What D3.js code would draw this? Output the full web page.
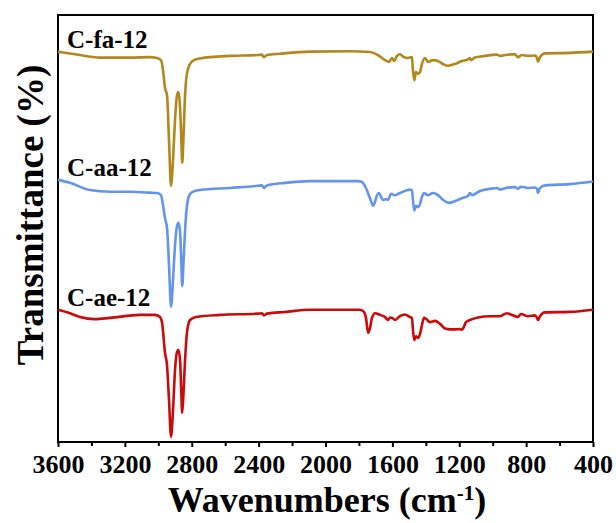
<!DOCTYPE html>
<html>
<head>
<meta charset="utf-8">
<script src="https://cdn.jsdelivr.net/npm/d3@7/dist/d3.min.js"></script>
<style>
  html, body { margin: 0; padding: 0; background: #fff; }
  svg { display: block; }
  text { font-family: "Liberation Serif", "Times New Roman", serif; font-weight: bold; fill: #000; }
</style>
</head>
<body>
<svg id="chart" width="616" height="523"></svg>
<script>
// FTIR spectra, offset vertically (transmittance, arbitrary units)
const seriesNames = ["C-fa-12", "C-aa-12", "C-ae-12"];
const seriesColors = ["#b3871b", "#6495ed", "#cc0a0a"];

// [wavenumber (cm-1), transmittance]
const faSpectrum = [
  [3600,91.4],[3498,90.8],[3349,90.0],[3169,90.0],[3050,90.1],[3008,89.9],[2984,89.4],
  [2972,87.1],[2960,82.9],[2948,81.2],[2936,70.6],[2924,59.9],[2912,66.0],[2900,75.4],
  [2888,81.2],[2880,81.9],[2873,80.0],[2864,73.0],[2857,65.3],[2850,70.6],[2840,81.2],
  [2828,86.4],[2810,88.5],[2787,89.4],[2751,89.8],[2571,90.4],[2404,90.6],[2380,90.7],
  [2368,90.1],[2350,90.6],[2272,90.9],[2093,91.4],[1854,91.5],[1734,91.3],[1686,90.6],
  [1644,89.4],[1620,89.0],[1602,89.9],[1590,89.2],[1572,90.4],[1555,90.8],[1531,90.1],
  [1507,89.9],[1483,90.1],[1477,87.1],[1469,84.7],[1459,86.6],[1447,86.2],[1435,86.6],
  [1423,88.5],[1405,89.9],[1387,89.0],[1357,89.4],[1327,89.2],[1297,88.5],[1267,88.1],
  [1226,88.5],[1184,89.2],[1148,89.6],[1136,89.9],[1130,89.4],[1106,90.0],[1046,90.4],
  [974,90.7],[956,90.4],[926,90.6],[867,90.8],[849,90.1],[825,90.6],[789,90.4],
  [747,90.5],[735,89.9],[729,89.0],[717,90.1],[687,91.0],[538,91.1],[400,91.4]
];

const aaSpectrum = [
  [3600,61.3],[3528,60.6],[3409,58.9],[3289,58.5],[3169,58.5],[3050,58.3],[3008,58.2],
  [2984,57.7],[2972,55.4],[2960,52.3],[2948,50.0],[2936,41.3],[2924,31.5],[2912,37.8],
  [2900,46.0],[2888,50.5],[2879,51.2],[2870,49.1],[2863,42.5],[2857,36.4],[2850,41.3],
  [2840,49.5],[2828,55.4],[2810,58.0],[2781,58.7],[2751,58.9],[2571,59.4],[2404,59.9],
  [2380,60.0],[2368,59.4],[2350,60.0],[2242,60.6],[2093,61.0],[1913,61.0],[1806,61.0],
  [1782,60.8],[1758,59.4],[1734,57.0],[1714,55.2],[1704,56.1],[1692,57.7],[1680,58.2],
  [1668,57.3],[1656,56.6],[1638,56.8],[1626,56.6],[1608,58.0],[1584,57.7],[1555,58.2],
  [1525,58.7],[1495,59.0],[1483,58.9],[1477,56.6],[1469,54.1],[1459,55.2],[1447,54.9],
  [1435,55.6],[1423,57.3],[1411,58.2],[1387,57.7],[1357,58.2],[1327,57.7],[1297,56.6],
  [1261,55.9],[1226,56.3],[1184,57.0],[1148,57.5],[1136,58.2],[1124,57.7],[1076,58.7],
  [1016,59.2],[974,59.4],[956,59.0],[920,59.4],[867,59.6],[849,59.2],[831,59.7],
  [789,59.4],[747,59.5],[735,59.2],[729,58.2],[717,59.4],[687,60.0],[538,60.3],[400,60.9]
];

const aeSpectrum = [
  [3600,30.8],[3528,30.0],[3468,29.1],[3379,28.6],[3289,28.9],[3110,29.6],[3020,29.6],
  [2990,29.1],[2978,27.9],[2960,20.7],[2948,17.8],[2936,9.6],[2924,1.0],[2912,7.3],
  [2900,16.7],[2888,20.9],[2880,21.4],[2870,19.0],[2863,12.0],[2857,6.6],[2850,10.8],
  [2840,19.0],[2828,25.6],[2810,28.4],[2775,29.1],[2631,29.6],[2404,29.9],[2380,30.0],
  [2368,29.5],[2350,29.9],[2242,30.3],[2093,30.8],[1913,30.8],[1794,30.8],[1770,30.3],
  [1758,28.9],[1745,25.4],[1734,26.5],[1722,28.9],[1704,30.0],[1674,29.6],[1644,29.1],
  [1626,28.4],[1614,29.0],[1602,28.9],[1584,28.4],[1555,29.3],[1525,29.7],[1495,29.1],
  [1483,28.9],[1477,26.1],[1469,23.7],[1459,24.6],[1447,24.2],[1435,25.1],[1423,27.2],
  [1411,28.9],[1399,28.7],[1375,27.9],[1345,28.2],[1315,27.5],[1285,26.4],[1255,26.2],
  [1226,26.2],[1196,26.3],[1184,26.1],[1172,26.8],[1160,27.9],[1136,28.4],[1088,29.0],
  [1016,29.3],[956,29.3],[915,30.0],[885,29.6],[849,29.1],[831,29.8],[789,29.3],
  [747,29.5],[735,28.9],[729,28.4],[717,29.3],[687,30.2],[538,30.3],[400,30.8]
];

const spectra = [faSpectrum, aaSpectrum, aeSpectrum];
const xTickValues = [3600, 3200, 2800, 2400, 2000, 1600, 1200, 800, 400];
const xMinorTicks = [3400, 3000, 2600, 2200, 1800, 1400, 1000, 600];

const margin = { left: 58, right: 23, top: 15, bottom: 81 };
const width = 616, height = 523;
const plotBottom = height - margin.bottom;

const svg = d3.select("#chart");

const x = d3.scaleLinear().domain([3600, 400]).range([margin.left, width - margin.right]);
const y = d3.scaleLinear().domain([0, 100]).range([plotBottom - 1, margin.top]);

// frame
svg.append("rect")
  .attr("x", margin.left).attr("y", margin.top)
  .attr("width", width - margin.right - margin.left)
  .attr("height", plotBottom - margin.top)
  .attr("fill", "none").attr("stroke", "#000").attr("stroke-width", 2);

// bottom axis: labelled major ticks and unlabelled minor ticks
const xAxis = d3.axisBottom(x).tickValues(xTickValues).tickSize(5).tickPadding(8).tickFormat(d3.format("d"));
const gx = svg.append("g").attr("transform", `translate(0,${plotBottom})`).call(xAxis);
gx.select(".domain").remove();
gx.selectAll(".tick line").attr("stroke-width", 2);
gx.selectAll(".tick text").style("font-size", "26px").attr("font-family", null);

const gMinor = svg.append("g").attr("transform", `translate(0,${plotBottom})`)
  .call(d3.axisBottom(x).tickValues(xMinorTicks).tickSize(4).tickFormat(""));
gMinor.select(".domain").remove();
gMinor.selectAll(".tick line").attr("stroke-width", 2);

// spectra
const line = d3.line()
  .x(d => x(d[0]))
  .y(d => y(d[1]))
  .curve(d3.curveMonotoneX);

spectra.forEach((s, i) => {
  svg.append("path")
    .datum(s)
    .attr("d", line)
    .attr("fill", "none")
    .attr("stroke", seriesColors[i])
    .attr("stroke-width", 2.6)
    .attr("stroke-linejoin", "round");
});

// series labels, just above the start of each trace
spectra.forEach((s, i) => {
  svg.append("text")
    .attr("x", margin.left + 9)
    .attr("y", y(s[0][1]) - 4)
    .style("font-size", "25px")
    .text(seriesNames[i]);
});

// axis titles
const xt = svg.append("text")
  .attr("x", 327)
  .attr("y", 512)
  .attr("text-anchor", "middle")
  .style("font-size", "36px");
xt.append("tspan").text("Wavenumbers (cm");
xt.append("tspan").attr("dy", -12).style("font-size", "21px").text("-1");
xt.append("tspan").attr("dy", 12).text(")");

svg.append("text")
  .attr("transform", `translate(43,215) rotate(-90)`)
  .attr("text-anchor", "middle")
  .style("font-size", "37px")
  .text("Transmittance (%)");
</script>
</body>
</html>
